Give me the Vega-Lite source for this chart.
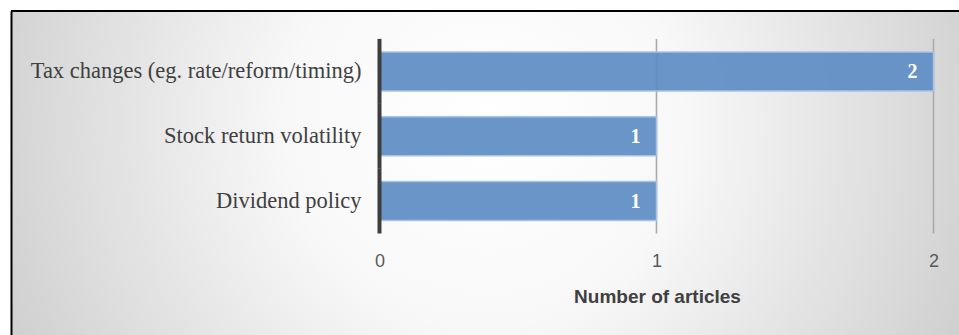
{
  "$schema": "https://vega.github.io/schema/vega-lite/v6.json",
  "width": 948,
  "height": 324,
  "autosize": {"type": "none"},
  "padding": {"left": 11, "top": 11, "right": 0, "bottom": 0},
  "background": "white",
  "config": {
    "view": {
      "stroke": "black",
      "strokeWidth": 2,
      "strokeDash": [948, 1596],
      "fill": {
        "gradient": "radial",
        "x1": 0.5, "y1": 0.45, "r1": 0,
        "x2": 0.5, "y2": 0.45, "r2": 0.7,
        "stops": [
          {"offset": 0, "color": "#ffffff"},
          {"offset": 0.3, "color": "#f8f8f8"},
          {"offset": 1, "color": "#bdbdbd"}
        ]
      }
    }
  },
  "data": {
    "values": [
      {"category": "Tax changes (eg. rate/reform/timing)", "articles": 2},
      {"category": "Stock return volatility", "articles": 1},
      {"category": "Dividend policy", "articles": 1}
    ]
  },
  "encoding": {
    "y": {
      "field": "category",
      "type": "nominal",
      "sort": null,
      "scale": {"paddingInner": 0, "paddingOuter": 1, "align": 0.216},
      "axis": {
        "orient": "left",
        "title": null,
        "domain": true,
        "domainColor": "#000000",
        "domainWidth": 2,
        "ticks": false,
        "tickSize": 0,
        "grid": false,
        "labelPadding": -350,
        "labelAlign": "right",
        "labelLimit": 500,
        "labelFont": "Liberation Serif",
        "labelFontSize": 22.5,
        "labelColor": "#404040"
      }
    }
  },
  "layer": [
    {
      "mark": {"type": "tick", "orient": "vertical", "size": 65, "thickness": 1.6, "color": "#ababab", "opacity": 1},
      "encoding": {"x": {"datum": 1, "type": "quantitative"}}
    },
    {
      "mark": {"type": "tick", "orient": "vertical", "size": 65, "thickness": 1.6, "color": "#ababab", "opacity": 1},
      "encoding": {"x": {"datum": 2, "type": "quantitative"}}
    },
    {
      "mark": {"type": "bar", "height": 39, "fill": "#5f8dc5", "fillOpacity": 0.93, "stroke": "#a9c2e3", "strokeWidth": 1.5},
      "encoding": {
        "x": {
          "field": "articles",
          "type": "quantitative",
          "scale": {"domain": [-1.3303, 2.0921], "nice": false, "zero": false},
          "axis": {
            "orient": "bottom",
            "offset": -103,
            "values": [0, 1, 2],
            "format": "d",
            "domain": false,
            "ticks": false,
            "tickSize": 0,
            "grid": false,
            "labelPadding": 20,
            "labelFont": "Liberation Sans",
            "labelFontSize": 18,
            "labelColor": "#595959",
            "title": "Number of articles",
            "titleFont": "Liberation Sans",
            "titleFontSize": 19,
            "titleFontWeight": "bold",
            "titleColor": "#404040",
            "titleX": 646,
            "titleY": 70,
            "titleBaseline": "alphabetic",
            "titleAlign": "center"
          }
        }
      }
    },
    {
      "mark": {"type": "tick", "orient": "vertical", "size": 65, "thickness": 4, "color": "#3d3d3d", "opacity": 1},
      "encoding": {"x": {"datum": 0, "type": "quantitative"}}
    },
    {
      "mark": {"type": "text", "align": "right", "baseline": "middle", "dx": -16, "dy": 1, "font": "Liberation Serif", "fontSize": 20, "fontWeight": "bold", "color": "#ffffff"},
      "encoding": {
        "x": {"field": "articles", "type": "quantitative"},
        "text": {"field": "articles", "type": "quantitative"}
      }
    }
  ]
}
